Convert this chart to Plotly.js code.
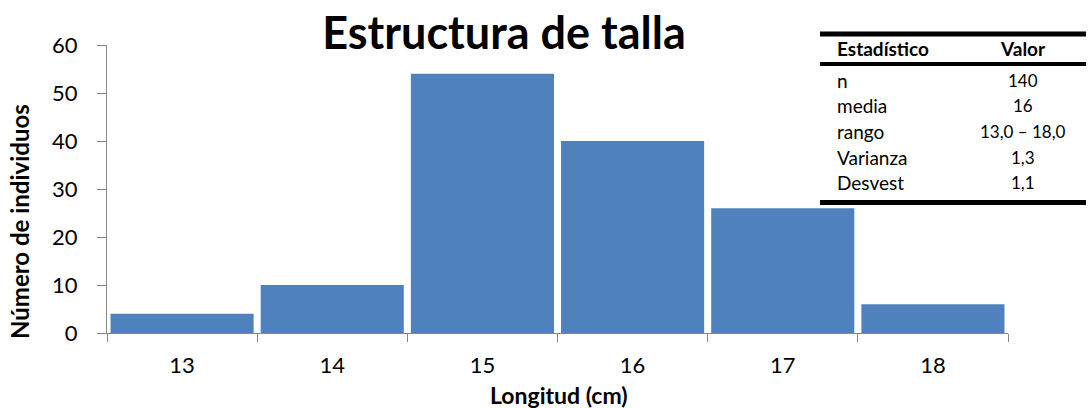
<!DOCTYPE html>
<html><head><meta charset="utf-8">
<script src="https://cdn.plot.ly/plotly-3.0.1.min.js"></script>
<style>body{margin:0;background:#fff}#c{width:1089px;height:408px}</style>
</head><body><div id="c"></div>
<script>
const categories = ["13","14","15","16","17","18"];
const counts = [4, 10, 54, 40, 26, 6];
const statNames = ["n","media","rango","Varianza","Desvest"];
const statValues = ["140","16","13,0 – 18,0","1,3","1,1"];

const W=1089,H=408,L=107,R=81,T=45,B=75;
const pw=W-L-R, ph=H-T-B;
const px=x=>(x-L)/pw, py=y=>(H-B-y)/ph;
const font="Lato, 'Liberation Sans', sans-serif";

const shapes=[
 {type:'line',xref:'paper',yref:'paper',x0:px(820),x1:px(1086),y0:py(34),y1:py(34),line:{color:'#000',width:5}},
 {type:'line',xref:'paper',yref:'paper',x0:px(820),x1:px(1086),y0:py(64),y1:py(64),line:{color:'#000',width:4}},
 {type:'line',xref:'paper',yref:'paper',x0:px(820),x1:px(1086),y0:py(202.5),y1:py(202.5),line:{color:'#000',width:5}}
];
const annotations=[
 {text:'<b>Estadístico</b>',x:px(835),y:py(49),xanchor:'left',yanchor:'middle',font:{family:font,size:19,color:'#000'}},
 {text:'<b>Valor</b>',x:px(1023),y:py(49),xanchor:'center',yanchor:'middle',font:{family:font,size:19,color:'#000'}}
];
const rowY=[80,105,131.5,157,182];
statNames.forEach((n,i)=>{
 annotations.push({text:n,x:px(835),y:py(rowY[i]),xanchor:'left',yanchor:'middle',font:{family:font,size:19,color:'#000'}});
 annotations.push({text:statValues[i],x:px(1023),y:py(rowY[i]),xanchor:'center',yanchor:'middle',font:{family:font,size:17,color:'#000'}});
});
annotations.push({text:'<b>Número de individuos</b>',textangle:-90,x:px(20),y:py(222),xanchor:'center',yanchor:'middle',font:{family:font,size:24,color:'#000'}});
annotations.push({text:'<b>Longitud (cm)</b>',x:px(559),y:py(395),xanchor:'center',yanchor:'middle',font:{family:font,size:23,color:'#000'}});
annotations.forEach(a=>{a.xref='paper';a.yref='paper';a.showarrow=false;});

Plotly.newPlot('c',[{
 type:'bar',x:categories,y:counts,marker:{color:'#4F81BD'},hoverinfo:'skip'
}],{
 width:W,height:H,margin:{l:L,r:R,t:T,b:B,pad:0},
 paper_bgcolor:'#fff',plot_bgcolor:'#fff',bargap:0.047,showlegend:false,
 title:{text:'<b>Estructura de talla</b>',font:{family:font,size:45,color:'#000'},x:504/W,xref:'container',xanchor:'center',y:1-33/H,yref:'container',yanchor:'middle'},
 xaxis:{type:'category',tickson:'boundaries',ticks:'outside',ticklen:8,tickcolor:'#868686',showline:true,linecolor:'#868686',linewidth:1,
  tickfont:{family:font,size:22,color:'#000'},ticklabelstandoff:13,showgrid:false,zeroline:false},
 yaxis:{range:[0,60],dtick:10,ticks:'outside',ticklen:9,tickcolor:'#868686',showline:true,linecolor:'#868686',linewidth:1,
  tickfont:{family:font,size:22,color:'#000'},ticklabelstandoff:15,showgrid:false,zeroline:false},
 shapes:shapes,annotations:annotations
},{displayModeBar:false,staticPlot:true});
</script></body></html>
